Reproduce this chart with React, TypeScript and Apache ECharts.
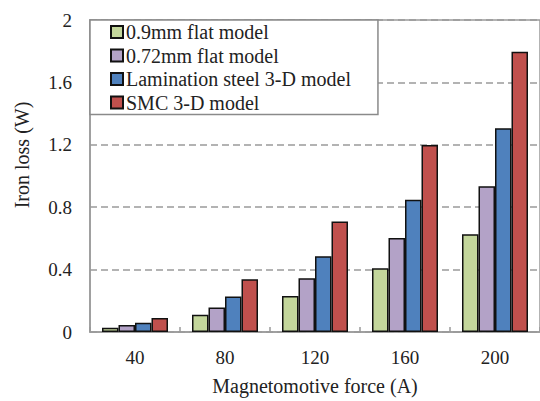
import React, { useEffect, useRef } from "react";
import * as echarts from "echarts";

const categories = ["40", "80", "120", "160", "200"];
const seriesNames = [
  "0.9mm flat model",
  "0.72mm flat model",
  "Lamination steel 3-D model",
  "SMC 3-D model",
];
const flat09 = [0.027, 0.11, 0.231, 0.408, 0.626];
const flat072 = [0.045, 0.157, 0.344, 0.603, 0.934];
const lamination3D = [0.059, 0.227, 0.486, 0.847, 1.306];
const smc3D = [0.089, 0.338, 0.709, 1.199, 1.796];
const seriesColors = ["#c3d69b", "#b3a2c7", "#4f81bd", "#c0504d"];
const xAxisTitle = "Magnetomotive force (A)";
const yAxisTitle = "Iron loss (W)";

const FONT = "Liberation Serif";

export default function App() {
  const ref = useRef<HTMLDivElement>(null);
  useEffect(() => {
    if (!ref.current) return;
    const chart = echarts.init(ref.current, null, { renderer: "svg" });
    const values = [flat09, flat072, lamination3D, smc3D];
    chart.setOption({
      animation: false,
      backgroundColor: "#ffffff",
      textStyle: { fontFamily: FONT },
      grid: {
        left: 90,
        right: 0,
        top: 20,
        bottom: 67,
        show: true,
        borderColor: "#9a9a9a",
        borderWidth: 1.5,
        containLabel: false,
      },
      legend: {
        left: 90,
        top: 20,
        orient: "vertical",
        padding: [2, 27, 2, 20],
        itemGap: 3.5,
        itemWidth: 12,
        itemHeight: 12,
        icon: "rect",
        borderColor: "#8a8a8a",
        borderWidth: 1.5,
        backgroundColor: "#ffffff",
        selectedMode: false,
        textStyle: { fontFamily: FONT, fontSize: 20, color: "#222", padding: [0, 0, 0, -2] },
        data: seriesNames,
      },
      xAxis: {
        type: "category",
        data: categories,
        name: xAxisTitle,
        nameLocation: "middle",
        nameGap: 44,
        nameTextStyle: { fontFamily: FONT, fontSize: 20, color: "#222" },
        axisLine: { show: true, lineStyle: { color: "#9a9a9a", width: 1.5 } },
        axisTick: { show: true, inside: true, length: 5, lineStyle: { color: "#9a9a9a", width: 1.5 } },
        axisLabel: { fontFamily: FONT, fontSize: 19, color: "#222", margin: 16 },
      },
      yAxis: {
        type: "value",
        min: 0,
        max: 2,
        interval: 0.4,
        axisLine: { show: true, lineStyle: { color: "#9a9a9a", width: 1.5 } },
        axisTick: { show: false },
        axisLabel: { fontFamily: FONT, fontSize: 19, color: "#222", margin: 18 },
        splitLine: {
          show: true,
          lineStyle: { color: "#9a9a9a", width: 1.5, type: [7, 4] },
        },
      },
      graphic: [
        {
          type: "text",
          x: 22,
          y: 155,
          rotation: Math.PI / 2,
          style: {
            text: yAxisTitle,
            fontFamily: FONT,
            fontSize: 20,
            fill: "#222",
            textAlign: "center",
            textVerticalAlign: "middle",
          },
        },
      ],
      series: seriesNames.map((name, i) => ({
        name,
        type: "bar",
        data: values[i],
        barWidth: 16.5,
        barGap: "0%",
        itemStyle: {
          color: seriesColors[i],
          borderColor: "#111",
          borderWidth: 1.5,
        },
      })),
    });
    return () => chart.dispose();
  }, []);
  return (
    <div
      ref={ref}
      style={{ position: "fixed", left: 0, top: 0, width: 540, height: 401 }}
    />
  );
}
